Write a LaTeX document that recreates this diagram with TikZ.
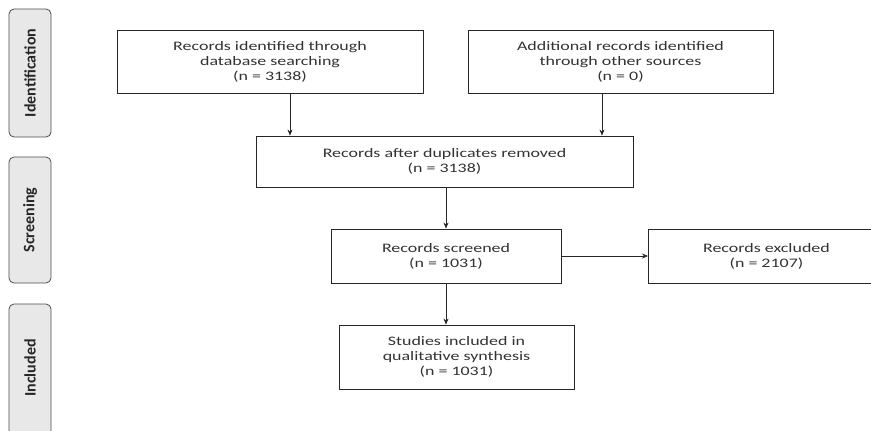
\documentclass[tikz,border=0pt]{standalone}
\usepackage{fontspec}
\setmainfont{Carlito}
\newfontfamily\boxfont[FakeStretch=1.38]{Carlito}
\usetikzlibrary{arrows.meta}
\definecolor{tabfill}{HTML}{E8E8E8}
\definecolor{txt}{HTML}{333333}
\tikzset{
  box/.style={draw=black!85, line width=0.9pt, fill=white, text=txt, align=center, font=\boxfont\fontsize{13}{15}\selectfont, inner sep=0pt},
  tab/.style={draw=black!70, line width=0.8pt, fill=tabfill, rounded corners=5pt},
  tablabel/.style={rotate=90, font=\bfseries\fontsize{16}{18}\selectfont, text=black!85},
  arr/.style={-{Stealth[length=6pt,width=5pt]}, line width=0.6pt, draw=black!85}
}
\begin{document}
\begin{tikzpicture}[x=1pt,y=-1pt]
\useasboundingbox (0,0) rectangle (871,431);
% side tabs
\draw[tab] (9,9) rectangle (51,137);
\node[tablabel] (tid) at (30,73) {Identification};
\draw[tab] (9,157) rectangle (51,283);
\node[tablabel] (tsc) at (30,220) {Screening};
\draw[tab] (9,304) rectangle (51,436);
\node[tablabel] (tin) at (30,368) {Included};
% boxes
\node[box, minimum width=306pt, minimum height=63pt] (b1) at (270,61.5) {Records identified through\\database searching\\(n = 3138)};
\node[box, minimum width=305pt, minimum height=63pt] (b2) at (620.5,61.5) {Additional records identified\\through other sources\\(n = 0)};
\node[box, minimum width=377pt, minimum height=51pt] (b3) at (444.5,161.5) {Records after duplicates removed\\(n = 3138)};
\node[box, minimum width=230pt, minimum height=54pt] (b4) at (446,256) {Records screened\\(n = 1031)};
\node[box, minimum width=236pt, minimum height=54pt, anchor=west] (b5) at (648,256) {Records excluded\\(n = 2107)};
\node[box, minimum width=235pt, minimum height=64pt] (b6) at (456.5,357) {Studies included in\\qualitative synthesis\\(n = 1031)};
% connectors
\draw[arr] (b1.south -| 290,0) -- (b3.north -| 290,0);
\draw[arr] (b2.south -| 602,0) -- (b3.north -| 602,0);
\draw[arr] (b3.south -| 446,0) -- (b4.north -| 446,0);
\draw[arr] (b4.east) -- (b5.west);
\draw[arr] (b4.south -| 446,0) -- (b6.north -| 446,0);
\end{tikzpicture}
\end{document}
